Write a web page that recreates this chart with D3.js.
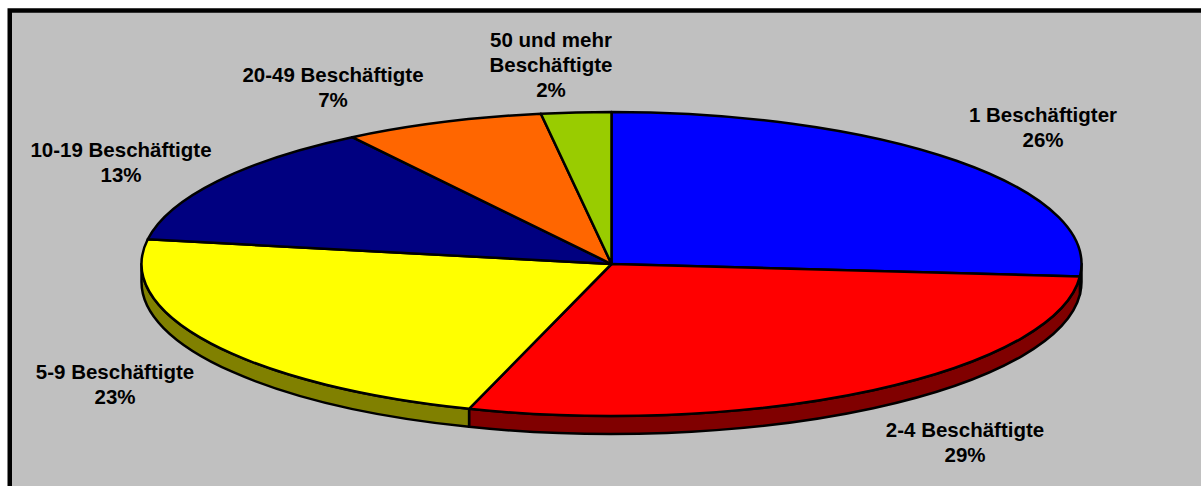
<!DOCTYPE html>
<meta charset="utf-8">
<style type="text/css">
  body {
    margin: 0;
    background: #fff;
  }
  .label {
    font-family: "Liberation Sans", Arial, sans-serif;
    font-weight: bold;
    font-size: 20.5px;
    fill: #000;
    text-anchor: middle;
  }
  .slice {
    stroke: #000;
    stroke-width: 2.5px;
    stroke-linejoin: round;
  }
</style>
<body>
<div id="chart"></div>
<script src="https://d3js.org/d3.v7.min.js"></script>
<script>
// categories, shares and printed labels
const categories = ["1 Beschäftigter", "2-4 Beschäftigte", "5-9 Beschäftigte",
                    "10-19 Beschäftigte", "20-49 Beschäftigte", "50 und mehr\nBeschäftigte"];
const shares = [26.3, 28.6, 22.7, 13.1, 6.9, 2.4];
const pctLabels = ["26%", "29%", "23%", "13%", "7%", "2%"];
const topColors = ["#0000ff", "#ff0000", "#ffff00", "#000080", "#ff6600", "#99cc00"];

// label anchor (centre x, first baseline)
const labelPos = [[1043, 122], [965, 437], [115, 379], [121, 157], [333, 82], [551, 47]];

const width = 1201, height = 486;
const cx = 611.5, cy = 264, rx = 470, ry = 152, depth = 18;

const svg = d3.select("#chart").append("svg")
  .attr("width", width)
  .attr("height", height);

// frame
svg.append("rect")
  .attr("x", 9.75).attr("y", 10.5)
  .attr("width", width + 20).attr("height", height + 20)
  .attr("fill", "#c0c0c0")
  .attr("stroke", "#000")
  .attr("stroke-width", 4.5);

const pie = d3.pie().sort(null).value(d => d);
const arcs = pie(shares);

function pt(a, dy) {
  return [cx + rx * Math.sin(a), cy - ry * Math.cos(a) + (dy || 0)];
}

// top face of a slice
function topPath(d) {
  const p0 = pt(d.startAngle), p1 = pt(d.endAngle);
  const large = (d.endAngle - d.startAngle) > Math.PI ? 1 : 0;
  return "M" + cx + "," + cy + "L" + p0 + "A" + rx + "," + ry + " 0 " + large + " 1 " + p1 + "Z";
}

// front wall, only the part between 3 and 9 o'clock shows
function sidePath(d) {
  const a0 = Math.max(d.startAngle, Math.PI / 2);
  const a1 = Math.min(d.endAngle, 3 * Math.PI / 2);
  if (a1 <= a0) return null;
  const p0 = pt(a0), p1 = pt(a1), q1 = pt(a1, depth), q0 = pt(a0, depth);
  return "M" + p0 + "A" + rx + "," + ry + " 0 0 1 " + p1 +
    "L" + q1 + "A" + rx + "," + ry + " 0 0 0 " + q0 + "Z";
}

const g = svg.append("g");

g.selectAll("path.side")
  .data(arcs.filter(d => sidePath(d)))
  .enter().append("path")
  .attr("class", "slice side")
  .attr("d", sidePath)
  .attr("fill", d => {
    const c = d3.rgb(topColors[d.index]);
    return d3.rgb(c.r / 2, c.g / 2, c.b / 2);
  });

g.selectAll("path.top")
  .data(arcs)
  .enter().append("path")
  .attr("class", "slice top")
  .attr("d", topPath)
  .attr("fill", (d, i) => topColors[i]);

// labels
const lab = svg.selectAll("text.label")
  .data(categories)
  .enter().append("text")
  .attr("class", "label")
  .attr("x", (d, i) => labelPos[i][0])
  .attr("y", (d, i) => labelPos[i][1]);

lab.each(function(d, i) {
  const lines = d.split("\n").concat([pctLabels[i]]);
  d3.select(this).selectAll("tspan")
    .data(lines)
    .enter().append("tspan")
    .attr("x", labelPos[i][0])
    .attr("dy", (l, j) => j === 0 ? 0 : 25)
    .text(l => l);
});
</script>
</body>
